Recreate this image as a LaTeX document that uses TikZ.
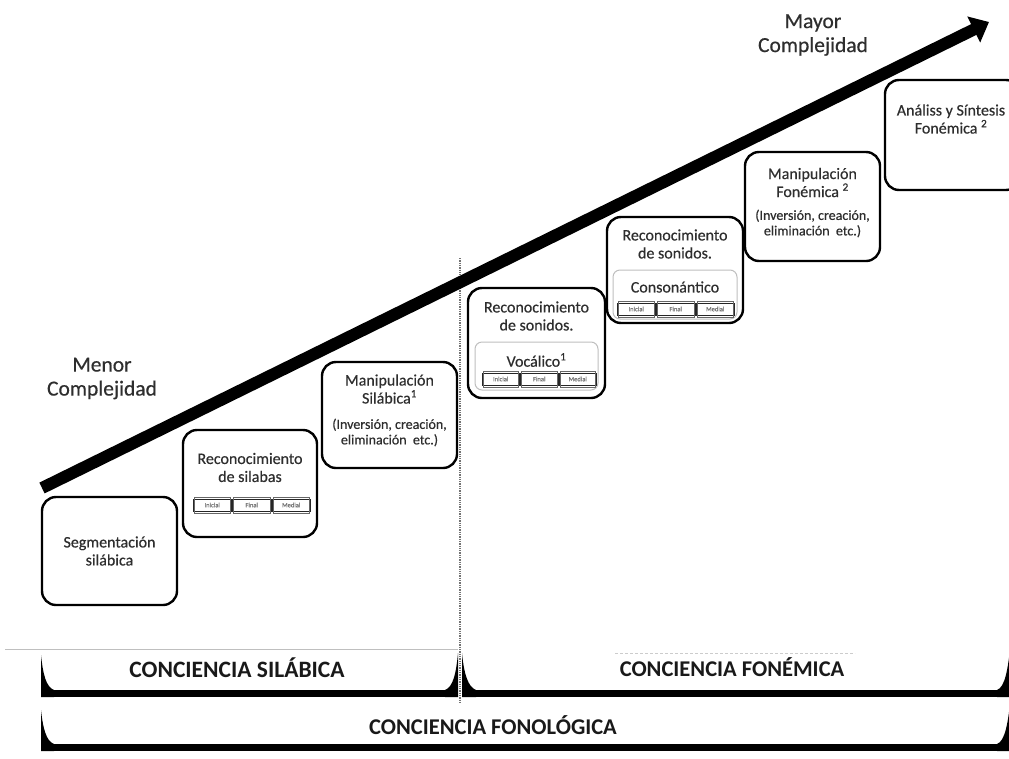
\documentclass[tikz,border=0pt]{standalone}
\usepackage{fontspec}
\setmainfont{Carlito}
\newfontfamily\heavy[FakeBold=0.45]{Carlito}
\usetikzlibrary{arrows.meta}
\definecolor{txt}{gray}{0.18}
\begin{document}
\begin{tikzpicture}[x=1pt,y=-1pt,
  stage/.style={draw=black, line width=2.4pt, rounded corners=14pt, fill=white, inner sep=0pt, outer sep=0pt},
  innerbox/.style={draw=black!25, line width=1pt, rounded corners=7pt, inner sep=0pt},
  cell/.style={draw=black!85, line width=1pt, inner sep=0pt, minimum height=12pt, font=\heavy\fontsize{6.5}{6.5}\selectfont, text=black!55},
  lbl/.style={font=\heavy\fontsize{16}{18}\selectfont, text=txt, align=center, inner sep=0pt},
  small/.style={font=\heavy\fontsize{14}{15.5}\selectfont, text=txt, align=center, inner sep=0pt},
  big/.style={font=\heavy\fontsize{21.5}{24}\selectfont, text=txt, align=center, inner sep=0pt},
  captext/.style={font=\bfseries\fontsize{22.5}{24}\selectfont, text=black!90, inner sep=0pt},
  bar/.style={fill=black, draw=none},
  bigarrow/.style={line width=12pt, -{Triangle[length=17pt,width=28pt]}}
]
\clip (0,0) rectangle (1009,758);
\fill[white] (0,0) rectangle (1009,758);

% thin guide lines
\coordinate (g1) at (5,649);
\coordinate (g2) at (458,649);
\draw[black!25, line width=0.8pt] (g1) -- (g2);
\coordinate (g3) at (615,653);
\coordinate (g4) at (855,653);
\draw[black!20, line width=0.6pt, densely dashed] (g3) -- (g4);

% dividing dotted line
\coordinate (d1) at (460,258);
\coordinate (d2) at (460,702);
\draw[black!55, line width=1.3pt, densely dotted] (d1) -- (d2);

% big arrow
\coordinate (as) at (42,488);
\coordinate (ae) at (989,22);
\draw[bigarrow] (as) -- (ae);

% boxes
\node[stage, minimum width=135pt, minimum height=108pt] (b1) at (109.5,551) {};
\node[stage, minimum width=134pt, minimum height=107pt] (b2) at (250,483.5) {};
\node[stage, minimum width=135pt, minimum height=106pt] (b3) at (389.5,415) {};
\node[stage, minimum width=137pt, minimum height=110pt] (b4) at (536.5,343) {};
\node[stage, minimum width=136pt, minimum height=106pt] (b5) at (675,270) {};
\node[stage, minimum width=135pt, minimum height=109pt] (b6) at (812.5,206.5) {};
\node[stage, minimum width=135pt, minimum height=110pt] (b7) at (952.5,135) {};

\node[innerbox, minimum width=123pt, minimum height=48pt] (i4) at (536.5,366) {};
\node[innerbox, minimum width=124pt, minimum height=49pt] (i5) at (675,294.5) {};

% texts
\node[lbl] (t1) at (109.5,551) {Segmentación\\silábica};
\node[lbl] (t2) at (250,467.5) {Reconocimiento\\de silabas};
\node[lbl] (t3) at (389.5,389) {Manipulación\\Silábica\textsuperscript{1}};
\node[small] (t3b) at (389.5,432.5) {(Inversión, creación,\\eliminación~ etc.)};
\node[lbl] (t4) at (536.5,316) {Reconocimiento\\de sonidos.};
\node[lbl] (t4b) at (536.5,360) {Vocálico\textsuperscript{1}};
\node[lbl] (t5) at (675,244) {Reconocimiento\\de sonidos.};
\node[lbl] (t5b) at (675,287) {Consonántico};
\node[lbl] (t6) at (812.5,182.5) {Manipulación\\Fonémica \textsuperscript{2}};
\node[small] (t6b) at (812.5,223.5) {(Inversión, creación,\\eliminación~ etc.)};
\node[lbl] (t7) at (951,119) {Análiss y Síntesis\\Fonémica \textsuperscript{2}};

% mini rows
\node[cell, minimum width=38.5pt] (m2a) at (212.25,505) {Inicial};
\node[cell, minimum width=38.5pt, anchor=west] (m2b) at (m2a.east) {Final};
\node[cell, minimum width=38.5pt, anchor=west] (m2c) at (m2b.east) {Medial};

\node[cell, minimum width=37.5pt] (m4a) at (500.75,379) {Inicial};
\node[cell, minimum width=37.5pt, anchor=west] (m4b) at (m4a.east) {Final};
\node[cell, minimum width=37.5pt, anchor=west] (m4c) at (m4b.east) {Medial};

\node[cell, minimum width=38.5pt] (m5a) at (636.25,309) {Inicial};
\node[cell, minimum width=38.5pt, anchor=west] (m5b) at (m5a.east) {Final};
\node[cell, minimum width=38.5pt, anchor=west] (m5c) at (m5b.east) {Medial};

% inner lines of the mini cells
\foreach \c in {m2a,m2b,m2c,m4a,m4b,m4c,m5a,m5b,m5c}{
  \draw[black!60, line width=0.4pt] ([shift={(1.6pt,-1.6pt)}]\c.south west) rectangle ([shift={(-1.6pt,1.6pt)}]\c.north east);
}

% complexity labels
\node[big] (menor) at (102,378.5) {Menor\\Complejidad};
\node[big] (mayor) at (813,35) {Mayor\\Complejidad};

% brackets: silabica
\fill[bar] (41,690) rectangle (458,697);
\fill[bar] (41,655) -- (41,697) -- (54,697) -- (54,690) .. controls (46,687) and (43,674) .. (41,655) -- cycle;
\fill[bar] (458,653) -- (458,697) -- (445,697) -- (445,690) .. controls (453,687) and (456,674) .. (458,653) -- cycle;
% fonemica
\fill[bar] (462,690) rectangle (1003,697);
\fill[bar] (462,653) -- (462,697) -- (476,697) -- (476,690) .. controls (468,687) and (464,674) .. (462,653) -- cycle;
\fill[bar] (1011,640) -- (1011,697) -- (997,697) -- (997,690) .. controls (1005,687) and (1008,670) .. (1011,640) -- cycle;
% fonologica
\fill[bar] (41,744) rectangle (1003,751);
\fill[bar] (41,710) -- (41,751) -- (54,751) -- (54,744) .. controls (46,741) and (43,728) .. (41,710) -- cycle;
\fill[bar] (1011,695) -- (1011,751) -- (997,751) -- (997,744) .. controls (1005,741) and (1008,724) .. (1011,695) -- cycle;

\node[captext, font=\bfseries\fontsize{23.5}{24}\selectfont] (cs) at (237,668) {CONCIENCIA SILÁBICA};
\node[captext] (cf) at (732,667) {CONCIENCIA FONÉMICA};
\node[captext] (cfl) at (493,725) {CONCIENCIA FONOLÓGICA};
\end{tikzpicture}
\end{document}
